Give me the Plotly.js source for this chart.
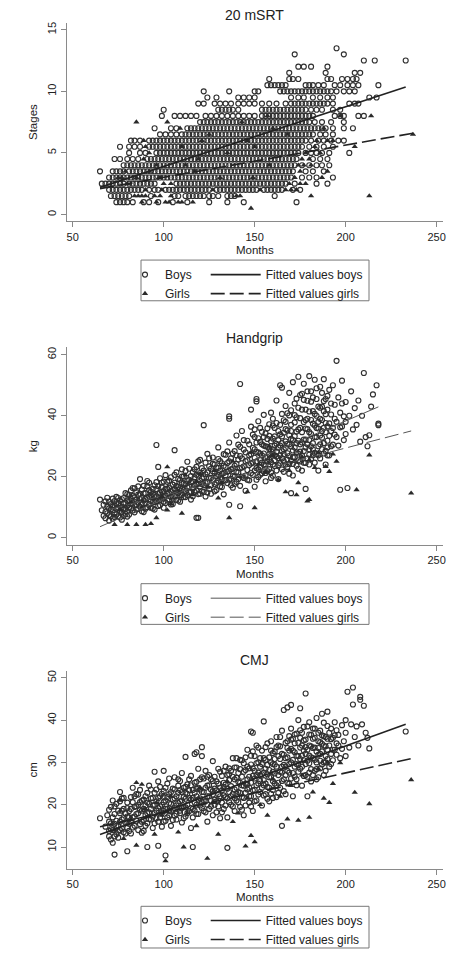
<!DOCTYPE html>
<html><head><meta charset="utf-8">
<script src="https://cdn.plot.ly/plotly-3.0.1.min.js"></script>
<style>html,body{margin:0;padding:0;background:#fff}#chart{width:467px;height:954px}</style>
</head><body><div id="chart"></div>
<script>
// ---------- DATA ----------
const monthTicks = [50, 100, 150, 200, 250];
const srtTicks = [0, 5, 10, 15];
const hgTicks = [0, 20, 40, 60];
const cmjTicks = [10, 20, 30, 40, 50];

// 20 mSRT: stages recorded in half-stage steps; months of each boy / girl per stage row
const srtStages = [0.5,1,1.5,2,2.5,3,3.5,4,4.5,5,5.5,6,6.5,7,7.5,8,8.5,9,9.5,10,10.5,11,11.5,12,12.5,13,13.5];
const srtBoysMonths = [
  [],
  [74,76,78,80,83,89,92,97,105,113,125,135,144,173],
  [71,73,75,77,79,81,93,106,108,112,114,116,118,120,122,125,127,130,135,137,139,161],
  [70,72,74,76,78,80,82,84,86,88,92,95,97,101,103,105,107,109,111,113,115,117,119,121,123,125,129,131,133,135,137,139,141,143,145,147,149,151,155,157,159,161,163,165,171,175],
  [66,68,70,72,74,76,78,81,83,85,87,89,91,93,95,107,109,111,113,115,117,119,121,123,125,127,129,131,133,135,137,139,141,143,145,147,149,151,153,155,157,159,161,163,165,167,172,184,190],
  [70,72,74,76,78,80,82,84,86,88,90,92,94,96,98,100,102,104,106,108,110,112,114,116,118,120,122,124,126,128,130,132,134,136,138,140,142,144,146,148,150,152,154,156,158,160,162,164,166,168,170,176,180,184,193],
  [65,72,74,76,78,81,83,85,87,89,91,93,95,97,99,101,103,105,107,109,111,113,115,117,119,121,123,125,127,129,131,133,135,137,139,141,143,145,147,149,151,153,155,157,159,161,163,165,167,169,171,178,182,188],
  [78,80,82,84,86,88,90,92,94,96,98,100,102,104,106,108,110,112,114,116,118,120,122,124,126,128,130,132,134,136,138,140,142,144,146,148,150,152,154,156,158,160,162,164,166,168,170,172,176,180,184,187,191],
  [73,76,80,83,86,91,93,95,97,99,101,103,105,107,109,111,113,115,117,119,121,123,125,127,129,131,133,135,137,139,141,143,145,147,149,151,153,155,157,159,161,163,165,167,169,171,173,182,186,190],
  [81,87,90,96,98,100,102,104,106,108,110,112,114,116,118,120,122,124,126,128,130,132,134,136,138,140,142,144,146,148,150,152,154,156,158,160,162,164,166,168,170,172,174,178,181,184,187,191,202],
  [76,81,84,87,92,94,96,98,100,102,104,106,108,110,112,114,116,118,120,122,124,126,128,130,132,134,136,138,140,142,144,146,148,150,152,154,156,158,160,162,164,166,168,170,172,174,176,180,184,188,193],
  [82,84,87,92,94,96,98,100,102,104,106,108,110,112,114,116,118,120,122,124,126,128,130,132,134,136,138,140,142,144,146,148,150,152,154,156,158,160,162,164,166,168,170,172,174,176,178,181,185,188,192,196,199],
  [98,101,104,107,110,112,114,116,118,120,122,124,126,128,130,132,134,136,138,140,142,144,146,148,150,152,154,156,158,160,162,164,166,168,170,172,174,176,178,180,182,186,189,193],
  [95,104,107,113,115,117,119,121,123,125,127,129,131,133,135,137,139,141,143,145,147,149,151,153,155,157,159,161,163,165,167,169,171,173,175,177,179,181,183,185,187,189,193,199,204],
  [120,122,124,126,128,130,132,134,136,138,140,142,144,146,148,150,152,154,156,158,160,162,164,166,168,170,172,174,176,178,180,183,187,192,199],
  [99,106,109,112,115,118,123,126,129,132,135,138,141,144,147,150,154,156,158,160,162,164,166,168,170,172,174,176,178,180,182,194,197,199,207,210],
  [100,130,132,134,136,138,141,154,156,158,160,162,164,166,168,170,172,174,176,178,181,184,187,193,197],
  [119,122,128,131,134,137,141,144,147,150,154,158,162,167,170,172,174,176,178,180,182,184,186,188,190,193,202,205,207],
  [124,129,141,144,147,150,170,174,177,182,186,190,193,213,217],
  [122,136,150,152,164,166,168,170,172,174,176,178,180,182,184,186,188,190,192,195,199,202,205],
  [157,159,161,163,165,167,178,180,182,185,188,194,197,201,204,207,218],
  [158,169,171,174,190,192,198,201,204,206],
  [169,189,205,208],
  [174,177,181,190],
  [210,216,233],
  [172,199],
  [195]
];
const srtGirlsMonths = [
  [148],
  [88,96,101,103,108,110,116],
  [84,86,88,90,95,98,104,140,142,181,213],
  [90,99,127,153,167,170,173],
  [80,100,104,169,175,178],
  [75,77,85,98,131,149,172,187],
  [79,92,117,175,190],
  [96,112,158,174,177,181],
  [89,119,176,180],
  [92,135,178,186],
  [90,110,150,183,205],
  [89,121,146,184,190,193],
  [125,168,237],
  [109,160,188],
  [85,102,143],
  [157,197,214],
  [],[],[],[],[],[],[],[],[],[],[]
];
const srtFitBoysMonths = [65, 233];
const srtFitBoysStages = [2.2, 10.35];
const srtFitGirlsMonths = [65, 237];
const srtFitGirlsStages = [2.1, 6.6];

// Handgrip (months, kg)
const hgBoys = [
 [65,12.5],[68,8.5],[69,10.2],[70,7.4],[70,11.8],[71,9.3],[72,6.2],[72,12.8],[73,8.1],[73,10.6],[74,9.5],[74,13.4],[75,7.0],[75,11.1],[76,8.8],[76,12.2],[77,10.0],[77,5.9],[78,9.2],[78,13.0],[79,11.4],[79,7.8],[80,10.4],[80,14.3],[80,8.6],
 [81,12.0],[81,9.8],[82,15.5],[82,11.0],[83,8.9],[83,13.6],[84,10.7],[84,16.2],[85,12.4],[85,9.2],[86,14.1],[86,11.5],[87,10.1],[87,19.2],[88,13.0],[88,15.8],[89,8.4],[89,12.2],[90,14.6],[90,11.3],[91,16.8],[91,10.0],[92,13.4],[92,18.0],[93,12.0],[93,15.0],[94,9.6],[94,14.2],[95,11.7],[95,17.2],[96,30.4],[96,13.5],[96,15.9],[97,23.2],[97,12.6],[97,10.4],[98,14.8],[98,19.5],[99,13.0],[99,16.6],[100,11.8],[100,15.2],[100,18.4],
 [101,13.8],[101,20.5],[102,12.2],[102,16.0],[103,14.5],[103,18.7],[104,10.9],[104,15.3],[105,17.4],[105,13.1],[106,28.7],[106,15.9],[106,20.6],[107,12.4],[107,17.0],[108,14.6],[108,19.3],[109,16.2],[109,11.8],[110,18.0],[110,14.0],[110,22.4],[111,15.7],[111,20.1],[112,13.3],[112,17.6],[113,16.5],[113,24.9],[114,14.9],[114,19.0],[115,18.2],[115,12.5],[116,21.5],[116,16.1],[117,15.0],[117,19.8],[118,6.5],[118,17.5],[118,23.2],[119,6.5],[119,14.3],[119,20.4],[120,16.8],[120,25.5],[120,18.6],
 [121,19.4],[121,15.2],[122,36.9],[122,22.0],[122,17.3],[123,13.5],[123,20.8],[124,18.2],[124,27.5],[125,16.0],[125,23.4],[126,19.6],[126,14.4],[127,21.8],[127,26.3],[128,17.5],[128,24.0],[129,20.2],[129,15.6],[130,22.9],[130,18.7],[130,29.6],[131,16.8],[131,25.1],[132,21.0],[132,19.1],[133,23.6],[133,14.2],[134,27.2],[134,20.5],[135,17.9],[135,24.5],[136,39.8],[136,39.0],[136,10.8],[136,21.9],[136,31.2],[137,19.3],[137,26.0],[138,22.7],[138,16.4],[139,28.4],[139,20.0],[140,24.2],[140,18.3],[140,33.5],
 [141,21.4],[141,30.5],[142,50.4],[142,10.3],[142,17.0],[142,26.8],[143,23.0],[143,35.0],[144,19.6],[144,28.9],[145,25.1],[145,15.4],[146,22.2],[146,31.8],[147,27.0],[147,18.8],[148,42.0],[148,24.3],[148,36.4],[149,20.6],[149,29.5],[150,26.2],[150,16.7],[150,33.0],[151,45.5],[151,44.7],[151,22.8],[151,28.1],[152,38.2],[152,19.9],[153,25.5],[153,31.4],[154,21.1],[154,34.7],[155,27.6],[155,40.3],[155,23.9],[156,30.0],[156,18.5],[157,26.4],[157,35.9],[158,22.5],[158,29.1],[159,41.0],[159,24.8],[160,32.5],[160,20.3],[160,27.3],
 [161,36.0],[161,23.5],[162,30.8],[162,45.0],[163,26.1],[163,19.2],[164,50.0],[164,33.9],[165,49.2],[165,28.4],[165,22.4],[166,38.5],[166,25.0],[167,31.6],[167,43.2],[168,27.7],[168,35.2],[169,47.5],[169,21.0],[169,40.1],[170,14.6],[170,29.9],[170,37.0],[171,51.0],[171,24.2],[172,33.3],[172,44.0],[173,28.0],[173,39.5],[174,52.8],[174,22.6],[174,35.5],[175,46.8],[175,30.6],[176,26.9],[176,42.0],[177,37.9],[177,50.5],[178,16.0],[178,32.2],[178,24.5],[179,44.9],[179,39.0],[180,29.0],[180,53.0],[180,34.6],
 [181,48.0],[181,25.8],[182,41.5],[182,31.0],[183,51.8],[183,36.8],[184,27.4],[184,45.5],[185,38.0],[185,22.0],[186,49.5],[186,33.5],[187,43.0],[187,29.0],[188,52.0],[188,36.0],[189,40.5],[189,24.0],[190,46.5],[190,31.8],[191,37.5],[191,27.0],[192,35.0],[192,44.0],[193,50.0],[193,30.5],[194,39.0],[195,58.0],[195,33.0],[196,46.0],[197,15.7],[197,41.0],[198,36.5],[198,51.5],[199,32.0],[200,44.5],[200,38.0],
 [201,16.3],[202,40.0],[203,48.0],[204,35.5],[205,42.5],[206,37.0],[207,45.0],[208,31.5],[209,40.0],[210,54.0],[211,33.0],[212,30.0],[213,33.6],[214,43.0],[215,47.0],[217,50.0],[218,37.4],[218,36.9],
 [66,9.0],[67,10.8],[67,7.2],[68,11.9],[68,6.4],[69,8.0],[69,13.1],[70,9.6],[70,5.6],[71,11.0],[71,7.0],[72,9.0],[72,10.2],[73,12.0],[73,6.8],[74,7.6],[74,11.2],[75,9.8],[75,13.0],[76,6.6],[76,10.4],[77,12.6],[77,8.3],[78,7.1],[78,11.1],[79,9.5],[79,14.6],[80,12.2],[80,6.9],
 [81,7.6],[81,14.0],[82,9.6],[82,12.8],[83,11.2],[83,16.3],[84,8.3],[84,13.2],[85,14.9],[85,10.8],[86,9.4],[86,16.8],[87,12.6],[87,14.4],[88,11.1],[88,8.7],[89,14.5],[89,17.0],[90,12.7],[90,9.5],[91,13.2],[91,18.6],[92,11.0],[92,15.6],[93,9.8],[93,13.8],[94,16.0],[94,11.6],[95,14.0],[95,9.2],[96,12.0],[96,18.2],[97,14.5],[97,16.9],[98,12.4],[98,10.6],[99,15.1],[99,18.0],[100,13.4],[100,9.8],
 [101,16.0],[101,11.4],[102,14.4],[102,18.3],[103,12.6],[103,16.4],[104,13.4],[104,19.8],[105,15.6],[105,11.0],[106,13.6],[106,18.0],[107,14.8],[107,21.4],[108,16.6],[108,12.2],[109,14.0],[109,19.0],[110,16.0],[110,20.0],[111,13.3],[111,17.8],[112,15.2],[112,21.9],[113,18.6],[113,14.0],[114,16.8],[114,22.6],[115,15.0],[115,20.2],[116,18.4],[116,13.6],[117,17.2],[117,22.4],[118,15.4],[118,20.6],[119,17.7],[119,25.0],[120,14.4],[120,21.2],
 [121,17.6],[121,22.8],[122,19.8],[122,15.0],[123,18.0],[123,24.6],[124,21.4],[124,14.8],[125,19.5],[125,26.0],[126,17.2],[126,22.6],[127,19.0],[127,24.2],[128,21.2],[128,15.2],[129,23.0],[129,18.0],[130,20.6],[130,25.8],[131,22.0],[131,19.6],[132,24.4],[132,16.6],[133,21.2],[133,27.4],[134,18.8],[134,23.2],[135,21.6],[135,28.3],[136,19.0],[136,25.0],[137,22.4],[137,17.2],[138,20.2],[138,27.6],[139,23.6],[139,17.6],[140,21.6],[140,27.0],[141,19.2],[141,25.6],[142,22.8],[142,29.8],[143,20.0],[143,26.0],[144,23.4],[144,32.0],[145,20.4],[145,28.0],[146,25.4],[146,19.0],[147,23.8],[147,30.6],[148,21.2],[148,27.4],[149,24.6],[149,33.8],[150,22.0],[150,29.0],
 [151,25.0],[151,31.2],[152,22.4],[152,28.0],[153,20.6],[153,27.6],[154,24.6],[154,30.6],[155,21.8],[155,33.0],[156,26.2],[156,24.0],[157,21.8],[157,29.8],[158,25.6],[158,33.4],[159,21.4],[159,28.4],[160,24.0],[160,36.8],[161,27.0],[161,30.2],[162,22.0],[162,26.6],[163,29.6],[163,35.0],[164,24.4],[164,30.2],[165,26.0],[165,33.2],[166,21.6],[166,29.0],[167,24.0],[167,35.6],[168,30.8],[168,23.2],[169,26.8],[169,33.6],[170,25.2],[170,32.4],[171,28.6],[171,20.4],[172,26.4],[172,37.8],[173,31.0],[173,23.6],[174,27.6],[174,42.6],[175,25.0],[175,36.0],[176,31.2],[176,22.0],[177,28.4],[177,45.2],[178,35.8],[178,29.6],[179,26.0],[179,48.0],[180,32.0],[180,24.0],[181,38.6],[181,30.0],[182,27.0],[182,46.0],[183,33.0],[183,24.6],[184,40.0],[184,36.0],[185,30.0],[185,43.0],[186,26.0],[186,39.0],[187,35.0],[187,47.5],[188,31.0],[188,41.5],[189,28.5],[189,45.5],[190,36.5],[190,27.0],
 [150,35.5],[151,19.0],[152,32.6],[153,23.2],[153,36.0],[154,27.0],[155,30.2],[156,34.2],[156,21.2],[157,32.4],[157,25.0],[158,37.2],[158,27.4],[159,31.6],[159,19.6],[160,29.0],[160,39.0],[161,25.4],[161,33.2],[162,28.2],[162,37.6],[163,23.8],[163,32.0],[164,27.0],[164,37.0],[165,31.0],[165,40.6],[166,27.4],[166,34.4],[167,29.4],[167,38.0],[168,25.6],[168,40.8],[169,30.6],[169,24.2],[170,35.0],[170,41.8],[171,32.0],[171,26.4],[172,29.6],[172,40.2],[173,34.8],[173,45.6],[174,31.8],[174,25.4],[175,39.2],[175,28.2],[176,34.6],[176,47.2],[177,32.2],[177,24.6],[178,38.6],[178,42.0],[179,30.6],[179,35.6],[180,27.2],[180,41.4],[181,34.0],[181,44.6],[182,29.0],[182,37.4],[183,40.6],[183,27.8],[184,33.0],[184,49.0],[185,35.8],[185,27.0],[186,42.6],[186,30.6],[187,38.6],[187,32.8],[188,27.6],[188,44.8],[189,34.6],[189,37.6],[190,29.6],[190,42.0],[191,33.4],[191,48.5],[192,30.0],[192,40.4],[193,36.0],[194,43.6],[194,33.8],[195,38.0],[196,30.2],[197,36.2],[198,44.0],[199,39.8],[200,34.0]
];
const hgGirls = [
 [73,4.3],[80,4.3],[85,4.3],[90,4.3],[93,4.6],[96,6.5],[102,23.2],[76,9.0],[82,11.5],[88,10.0],[94,12.8],[99,13.5],[104,11.0],[108,15.0],[112,20.5],[116,14.0],[120,21.0],[124,16.5],[128,22.0],[132,18.0],[136,6.5],[138,25.0],[142,20.0],[146,15.0],[150,9.8],[152,24.0],[156,21.5],[160,27.0],[163,19.0],[167,15.0],[169,22.0],[172,25.0],[173,14.0],[174,18.0],[176,26.5],[179,12.0],[180,12.5],[180,25.5],[183,23.0],[185,28.0],[189,23.3],[191,21.7],[193,27.4],[206,15.7],[213,27.1],[236,14.6],[158,30.0],[148,28.0],[130,13.0],[118,18.5],[110,8.0],[102,9.0],[195,25.0]
];
const hgFitBoysMonths = [65, 218];
const hgFitBoysKg = [3.6, 42.9];
const hgFitGirlsMonths = [70, 236];
const hgFitGirlsKg = [9.2, 35.0];

// CMJ (months, cm)
const cmjBoys = [
 [65,16.8],[70,12.5],[70,16.0],[71,19.5],[71,14.2],[72,21.0],[72,11.0],[73,8.2],[73,15.5],[73,17.8],[74,13.0],[74,20.2],[75,15.0],[75,12.2],[76,23.0],[76,18.0],[76,14.0],[77,16.5],[77,21.5],[78,13.5],[78,19.0],[79,15.8],[80,9.0],[80,17.2],[80,20.5],[80,14.5],
 [81,18.5],[81,15.5],[82,21.8],[82,13.2],[83,17.0],[83,24.0],[84,19.5],[84,15.0],[85,22.5],[85,17.8],[86,14.0],[86,20.0],[87,18.8],[87,23.5],[88,16.0],[88,21.0],[89,19.0],[89,13.8],[90,22.0],[90,17.5],[91,10.0],[91,20.5],[91,15.6],[92,18.2],[92,24.5],[93,16.5],[93,21.5],[94,19.8],[94,14.5],[95,27.8],[95,22.8],[95,18.0],[96,16.8],[96,20.8],[97,10.3],[97,25.5],[97,19.2],[98,17.0],[98,22.0],[99,20.0],[99,14.8],[100,28.0],[100,18.5],[100,23.2],[101,8.0],[101,16.2],
 [101,21.0],[102,19.0],[102,25.0],[103,17.5],[103,22.5],[104,20.2],[104,15.0],[105,23.8],[105,18.8],[106,21.5],[106,26.5],[107,16.5],[107,19.8],[108,22.8],[108,24.5],[109,18.0],[109,20.8],[110,23.0],[110,15.8],[110,27.5],[111,19.5],[111,21.8],[112,31.3],[112,17.2],[112,24.2],[113,20.0],[113,22.6],[114,18.5],[114,26.0],[115,21.2],[115,14.5],[116,10.0],[116,23.5],[116,19.0],[117,32.0],[117,25.2],[117,20.5],[118,32.4],[118,17.8],[118,22.0],[119,24.0],[119,28.5],[120,19.8],[120,21.5],[121,33.6],[121,31.5],[121,26.5],
 [122,18.5],[122,23.0],[123,20.8],[123,28.0],[124,16.0],[124,24.5],[125,22.0],[125,19.0],[126,26.0],[126,21.0],[127,30.3],[127,17.5],[128,23.8],[128,20.0],[129,25.5],[129,18.2],[130,22.5],[130,28.5],[131,16.8],[131,24.0],[132,20.5],[132,26.8],[133,22.2],[133,19.0],[134,29.0],[134,24.8],[135,9.8],[135,21.5],[135,17.0],[136,25.8],[136,23.0],[137,20.0],[137,28.0],[138,31.0],[138,22.5],[139,18.5],[139,26.0],[140,31.0],[140,24.0],[140,21.0],
 [141,23.0],[141,27.5],[142,19.5],[142,25.2],[143,30.5],[143,21.8],[144,24.5],[144,17.5],[145,28.2],[145,22.8],[146,26.0],[146,33.0],[147,20.5],[147,24.0],[148,37.3],[148,29.5],[148,22.0],[149,37.0],[149,26.8],[149,18.5],[150,23.5],[150,31.5],[151,27.0],[151,21.0],[152,25.0],[152,33.5],[153,29.0],[153,23.0],[154,19.8],[154,27.2],[155,39.7],[155,25.8],[155,31.0],[156,22.5],[156,28.5],[157,34.5],[157,24.2],[158,26.5],[158,20.8],[159,30.0],[159,35.0],[160,27.8],[160,23.5],[160,32.2],
 [161,29.5],[161,25.0],[162,36.0],[162,21.8],[163,31.5],[163,27.0],[164,24.0],[164,33.8],[165,15.0],[165,29.0],[165,37.5],[166,26.0],[166,42.4],[167,31.0],[167,22.5],[168,43.0],[168,35.0],[168,28.0],[169,25.0],[169,32.8],[170,43.6],[170,30.0],[170,38.0],[171,27.5],[171,22.0],[172,34.5],[172,29.0],[173,36.8],[173,26.0],[174,31.5],[174,40.0],[175,42.8],[175,28.5],[175,33.5],[176,24.5],[176,37.0],[177,30.5],[177,35.2],[178,46.3],[178,27.0],[178,32.0],[179,38.5],[179,22.0],[180,34.0],[180,29.8],[180,39.5],
 [181,36.5],[181,25.5],[182,31.0],[182,38.0],[183,33.5],[183,28.0],[184,40.5],[184,30.0],[185,35.0],[185,26.5],[186,37.5],[186,32.0],[187,29.5],[187,41.5],[188,34.0],[188,27.0],[189,36.0],[189,31.5],[190,42.0],[190,33.0],[191,29.0],[192,38.0],[192,35.5],[193,30.5],[194,39.5],[195,34.5],[196,36.5],[197,31.0],[198,38.8],[199,35.0],[200,37.0],
 [201,46.7],[204,47.7],[204,43.7],[203,39.0],[205,36.0],[206,38.5],[207,34.0],[208,45.5],[208,44.8],[209,39.0],[210,43.4],[211,37.0],[212,35.8],[213,33.3],[233,37.3],[202,33.5],
 [68,14.8],[69,17.5],[70,13.8],[70,18.8],[71,15.6],[71,11.8],[72,17.0],[72,14.0],[73,19.6],[73,12.5],[74,16.2],[74,15.0],[75,18.6],[75,13.6],[76,16.0],[76,20.8],[77,14.4],[77,18.6],[78,16.8],[78,21.6],[79,13.2],[79,18.0],[80,15.8],[80,19.2],[81,17.0],[81,13.8],[82,19.0],[82,15.8],[83,14.6],[83,20.6],[84,17.2],[84,22.0],[85,16.2],[85,19.6],[86,18.0],[86,22.4],[87,15.4],[87,20.6],[88,18.6],[88,13.4],[89,21.2],[89,16.4],[90,19.8],[90,15.0],
 [91,18.0],[91,22.8],[92,16.6],[92,20.2],[93,19.0],[93,23.6],[94,17.2],[94,21.6],[95,20.0],[95,15.6],[96,18.6],[96,23.6],[97,21.6],[97,16.0],[98,19.6],[98,24.2],[99,18.0],[99,22.6],[100,20.6],[100,16.0],[101,19.0],[101,24.0],[102,17.0],[102,21.8],[103,20.4],[103,26.2],[104,18.4],[104,23.0],[105,21.2],[105,16.4],[106,19.2],[106,23.6],[107,22.0],[107,17.8],[108,20.4],[108,26.0],[109,18.6],[109,23.4],[110,21.0],[110,19.2],[111,24.0],[111,16.8],[112,21.4],[112,19.4],[113,24.8],[113,18.0],[114,21.6],[114,23.4],[115,19.2],[115,24.6],[116,21.6],[116,17.0],[117,22.8],[117,18.6],[118,20.0],[118,25.4],[119,21.2],[119,17.8],[120,23.6],[120,26.0],[121,20.6],[121,23.0],[122,21.0],[122,26.2],[123,18.2],[123,24.0],[124,22.0],[124,20.0],[125,24.6],[125,27.0],[126,19.6],[126,23.6],[127,22.4],[127,25.6],[128,21.2],[128,26.6],[129,20.8],[129,23.4],[130,25.0],[130,19.6],
 [131,22.0],[131,27.8],[132,23.4],[132,18.2],[133,25.2],[133,28.0],[134,21.8],[134,19.8],[135,23.8],[135,27.0],[136,20.6],[136,28.6],[137,24.4],[137,22.0],[138,26.6],[138,19.6],[139,23.6],[139,28.8],[140,22.6],[140,26.4],[141,20.6],[141,25.4],[142,22.8],[142,28.4],[143,24.6],[143,26.6],[144,21.6],[144,27.8],[145,25.0],[145,19.8],[146,23.6],[146,29.0],[147,26.6],[147,22.0],[148,25.2],[148,31.6],[149,23.4],[149,28.6],[150,26.2],[150,20.8],[151,24.6],[151,29.8],[152,22.4],[152,27.6],[153,25.6],[153,31.0],[154,24.0],[154,29.6],[155,22.2],[155,27.6],[156,25.0],[156,30.6],[157,27.2],[157,21.4],[158,24.0],[158,31.2],[159,26.6],[159,22.6],[160,29.6],[160,25.6],[161,27.4],[161,32.6],[162,24.6],[162,29.0],[163,22.8],[163,34.0],[164,27.8],[164,30.8],[165,25.6],[165,32.0],[166,29.4],[166,23.2],[167,27.0],[167,34.6],[168,25.2],[168,31.2],[169,29.6],[169,36.2],[170,26.2],[170,33.2],
 [171,30.6],[171,35.6],[172,26.6],[172,32.4],[173,29.6],[173,24.6],[174,34.6],[174,27.8],[175,30.8],[175,37.6],[176,29.0],[176,34.0],[177,26.8],[177,32.8],[178,35.4],[178,29.6],[179,33.0],[179,26.6],[180,31.6],[180,36.6],[181,28.4],[181,33.8],[182,35.6],[182,27.0],[183,30.6],[183,38.0],[184,32.6],[184,26.0],[185,31.8],[185,37.0],[186,28.6],[186,34.8],[187,32.6],[187,36.4],[188,30.0],[188,39.4],[189,33.8],[189,28.0],[190,35.6],[190,30.8],[191,37.0],[192,32.0],[193,35.8],[194,33.0],[195,37.6],
 [140,28.8],[142,30.6],[143,18.8],[144,29.8],[145,31.2],[146,24.8],[147,28.6],[148,19.6],[149,32.6],[150,28.0],[151,34.0],[152,30.0],[153,27.0],[154,32.8],[155,24.6],[156,33.6],[157,29.4],[158,28.2],[159,32.8],[160,21.6],[161,30.8],[162,33.6],[163,25.2],[164,36.0],[165,27.6],[166,31.8],[167,29.0],[168,33.4],[169,27.6],[170,35.4],[171,32.8],[172,36.6],[173,31.6],[174,29.4],[175,35.8],[176,31.6],[177,38.4],[178,33.6],[179,30.4],[180,27.6],[181,31.2],[182,33.4],[183,35.8],[184,28.4],[185,33.4],[186,30.4],[187,34.4],[188,36.2],[189,30.0],[190,38.6],[191,34.0],[192,29.6],[193,33.0],[194,36.4],[195,31.8],[196,34.0],[198,33.2],[200,40.0],[200,31.5],
 [100,21.8],[103,18.6],[106,17.4],[109,25.6],[112,22.8],[115,26.8],[118,23.8],[121,19.2],[124,26.6],[127,23.2],[130,21.0],[133,24.2],[136,27.2],[139,21.6]
];
const cmjGirls = [
 [73,14.0],[76,21.0],[78,12.0],[85,25.2],[88,24.8],[85,10.4],[82,16.5],[90,19.0],[95,13.0],[99,17.5],[101,6.7],[104,22.0],[108,13.5],[111,10.0],[113,18.0],[118,15.0],[124,7.3],[127,20.5],[130,13.0],[135,25.5],[138,16.0],[141,18.0],[145,10.2],[148,12.7],[150,11.2],[153,20.0],[157,17.5],[160,26.0],[164,22.0],[168,16.6],[170,24.5],[174,16.3],[176,27.0],[180,17.0],[182,23.0],[185,28.5],[188,21.5],[191,20.5],[193,25.0],[197,29.9],[205,22.9],[213,20.2],[236,25.9],[190,30.0],[146,21.5],[120,24.0],[96,20.5]
];
const cmjFitBoysMonths = [65, 233];
const cmjFitBoysCm = [12.95, 39.0];
const cmjFitGirlsMonths = [65, 236];
const cmjFitGirlsCm = [14.8, 30.9];

// ---------- BUILD ----------
const W = 467, H = 954;
const px = v => v / W;
const py = v => 1 - v / H;
const FONT = 'Liberation Sans, Arial, Helvetica, sans-serif';
const INK = '#222';
const PTC = '#303030';

function rowsXY(levels, rows) {
  const x = [], y = [];
  rows.forEach((r, i) => r.forEach(m => { x.push(m); y.push(levels[i]); }));
  return {x, y};
}
const pairsXY = p => ({x: p.map(d => d[0]), y: p.map(d => d[1])});

const boysMarker = {symbol: 'circle-open', size: 5, color: PTC, line: {width: 1.15, color: PTC}};
const girlsMarker = {symbol: 'triangle-up', size: 5.5, color: '#2a2a2a', line: {width: 0}};

function panelTraces(boys, girls, fb, fg, xa, ya, legA, legB, lw, lc) {
  return [
    {type: 'scatter', mode: 'markers', name: 'Boys', x: boys.x, y: boys.y, xaxis: xa, yaxis: ya, marker: boysMarker, legend: legA, hoverinfo: 'skip'},
    {type: 'scatter', mode: 'markers', name: 'Girls', x: girls.x, y: girls.y, xaxis: xa, yaxis: ya, marker: girlsMarker, legend: legA, hoverinfo: 'skip'},
    {type: 'scatter', mode: 'lines', name: 'Fitted values boys', x: fb.x, y: fb.y, xaxis: xa, yaxis: ya, line: {color: lc, width: lw}, legend: legB},
    {type: 'scatter', mode: 'lines', name: 'Fitted values girls', x: fg.x, y: fg.y, xaxis: xa, yaxis: ya, line: {color: lc, width: lw, dash: '14px,5px'}, legend: legB}
  ];
}

const traces = [].concat(
  panelTraces(rowsXY(srtStages, srtBoysMonths), rowsXY(srtStages, srtGirlsMonths),
    {x: srtFitBoysMonths, y: srtFitBoysStages}, {x: srtFitGirlsMonths, y: srtFitGirlsStages},
    'x', 'y', 'legend', 'legend2', 1.6, '#222'),
  panelTraces(pairsXY(hgBoys), pairsXY(hgGirls),
    {x: hgFitBoysMonths, y: hgFitBoysKg}, {x: hgFitGirlsMonths, y: hgFitGirlsKg},
    'x2', 'y2', 'legend3', 'legend4', 1, '#555'),
  panelTraces(pairsXY(cmjBoys), pairsXY(cmjGirls),
    {x: cmjFitBoysMonths, y: cmjFitBoysCm}, {x: cmjFitGirlsMonths, y: cmjFitGirlsCm},
    'x3', 'y3', 'legend5', 'legend6', 1.6, '#222')
);

const xDom = [px(66.7), px(443)];
function xAxis(anchor) {
  return {domain: xDom, anchor: anchor, range: [46.7, 253.5], tickvals: monthTicks,
    ticks: 'outside', ticklen: 5, tickcolor: '#888', tickwidth: 1,
    showline: true, linecolor: '#8a8a8a', linewidth: 1, showgrid: false, zeroline: false,
    tickfont: {family: FONT, size: 11, color: INK},
    title: {text: 'Months', font: {family: FONT, size: 11.5, color: INK}, standoff: 4}};
}
function yAxis(anchor, top, bottom, range, ticks, title) {
  return {domain: [py(bottom), py(top)], anchor: anchor, range: range, tickvals: ticks,
    ticks: 'outside', ticklen: 5, tickcolor: '#888', tickwidth: 1, tickangle: -90,
    showline: true, linecolor: '#8a8a8a', linewidth: 1, showgrid: false, zeroline: false,
    tickfont: {family: FONT, size: 11, color: INK},
    title: {text: title, font: {family: FONT, size: 11.5, color: INK}, standoff: 6}};
}
function legendAt(xLeft, yTop) {
  return {x: px(xLeft), xanchor: 'left', y: py(yTop), yanchor: 'top', orientation: 'v',
    bgcolor: 'rgba(0,0,0,0)', borderwidth: 0, font: {family: FONT, size: 12, color: INK},
    itemclick: false, itemdoubleclick: false};
}
function legendLines(xLeft, yTop) {
  const l = legendAt(xLeft, yTop); l.itemwidth = 50; return l;
}
function box(top, bottom) {
  return {type: 'rect', xref: 'paper', yref: 'paper', x0: px(141), x1: px(369), y0: py(bottom), y1: py(top),
    line: {color: '#777', width: 1}, fillcolor: 'rgba(0,0,0,0)'};
}
function title(text, yc) {
  return {text: text, xref: 'paper', yref: 'paper', x: (xDom[0] + xDom[1]) / 2, y: py(yc),
    xanchor: 'center', yanchor: 'middle', showarrow: false, font: {family: FONT, size: 14, color: INK}};
}

const layout = {
  width: W, height: H, margin: {l: 0, r: 0, t: 0, b: 0},
  paper_bgcolor: '#fff', plot_bgcolor: '#fff', font: {family: FONT, color: INK},
  xaxis: xAxis('y'), xaxis2: xAxis('y2'), xaxis3: xAxis('y3'),
  yaxis: yAxis('x', 23, 223, [-0.56, 15.56], srtTicks, 'Stages'),
  yaxis2: yAxis('x2', 350, 549, [-2.4, 62.4], hgTicks, 'kg'),
  yaxis3: yAxis('x3', 676, 875, [4.9, 51.6], cmjTicks, 'cm'),
  legend: legendAt(125, 262), legend2: legendLines(205.7, 262),
  legend3: legendAt(125, 588), legend4: legendLines(205.7, 588),
  legend5: legendAt(125, 913), legend6: legendLines(205.7, 913),
  shapes: [box(262, 303), box(588, 629), box(913, 955)],
  annotations: [title('20 mSRT', 15), title('Handgrip', 340), title('CMJ', 665)],
  showlegend: true
};

Plotly.newPlot('chart', traces, layout, {staticPlot: true, displayModeBar: false});
</script></body></html>
